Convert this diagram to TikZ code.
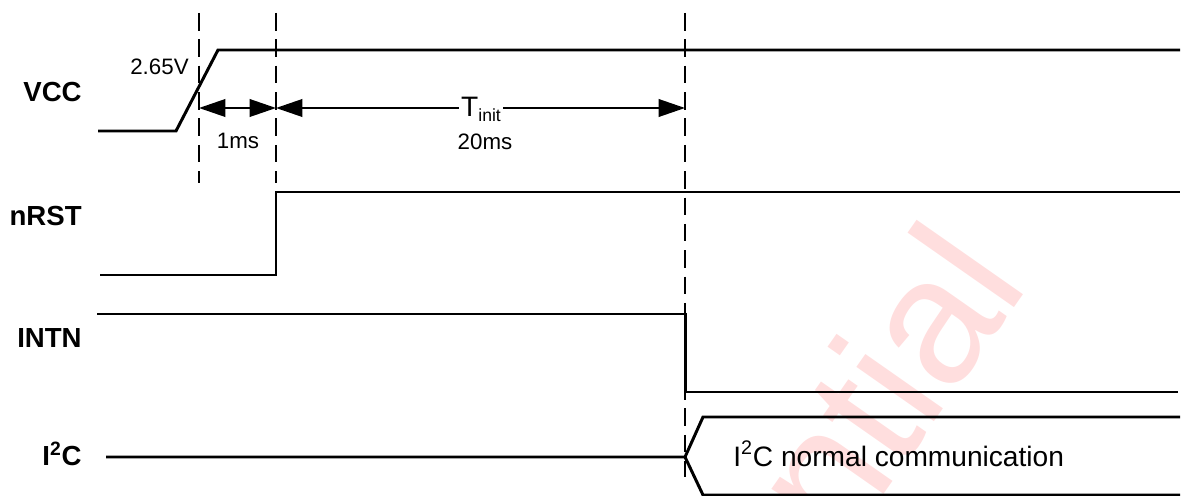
\documentclass[tikz,border=0pt]{standalone}
\usepackage{fontspec}
\setmainfont{Liberation Sans}
\usetikzlibrary{arrows.meta}
\newcommand{\sigsize}{\fontsize{15.7}{18}\selectfont\bfseries}
\newcommand{\notesize}{\fontsize{12.7}{15}\selectfont}

\begin{document}
\begin{tikzpicture}[x=0.2mm,y=-0.2mm,
    wave/.style={line width=1.7pt},
    guide/.style={line width=1.2pt,dash pattern=on 10pt off 5pt},
    dim/.style={line width=1.1pt,{Triangle[length=15pt,width=10pt]}-{Triangle[length=15pt,width=10pt]}},
    signame/.style={font=\sigsize,anchor=base east,inner sep=0pt},
    note/.style={font=\notesize,inner sep=0pt}]
  \useasboundingbox (0,0) rectangle (1181,496);
  % watermark
  \begin{scope}
    \clip (0,0) rectangle (1181,496);
    \node[rotate=55,anchor=base east,inner sep=0pt,text=red!13,
          font=\fontsize{102}{110}\selectfont] (mark) at (1031,284) {Confidential};
  \end{scope}
  % signal names
  \node[signame] (vcc)  at (82,102) {VCC};
  \node[signame] (nrst) at (82,225) {nRST};
  \node[signame] (intn) at (82,347) {INTN};
  \node[signame] (i2c)  at (82,465) {I\textsuperscript{2}C};
  % time marks
  \coordinate (t1) at (199,108);
  \coordinate (t2) at (276,108);
  \coordinate (t3) at (685,108);
  \draw[guide] (199,13) -- (199,183);
  \draw[guide] (276,13) -- (276,183);
  \draw[guide] (685,13) -- (685,477);
  % waveforms
  \draw[wave] (98,131) -- (176,131) -- (218,50) -- (1180,50);
  \draw[wave] (100,275) -- (276,275) -- (276,192) -- (1180,192);
  \draw[wave] (97,314) -- (685,314) -- (685,392) -- (1178,392);
  \draw[wave] (106,457) -- (685,457) -- (703,417) -- (1180,417);
  \draw[wave] (685,457) -- (703,495) -- (1180,495);
  % timing
  \draw[dim] (t1) -- (t2);
  \draw[dim] (t2) -- (t3);
  \node[anchor=base,fill=white,inner xsep=1pt,inner ysep=0pt,
        font=\fontsize{16}{19}\selectfont] (tinit) at (481,117)
        {T\raisebox{-2.3pt}{\fontsize{10}{12}\selectfont init}};
  \node[note,anchor=base east] (vth) at (189,75) {2.65V};
  \node[note,anchor=base] (d1) at (238,149) {1ms};
  \node[note,anchor=base] (d2) at (485,150) {20ms};
  \node[anchor=base west,inner sep=0pt,font=\fontsize{16}{19}\selectfont] (bus)
        at (733,466) {I\textsuperscript{2}C normal communication};
\end{tikzpicture}
\end{document}
